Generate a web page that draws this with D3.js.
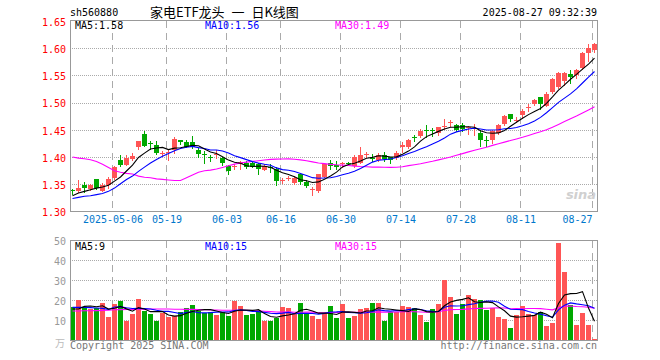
<!DOCTYPE html>
<html><head><meta charset="utf-8">
<script src="https://cdn.jsdelivr.net/npm/d3@7"></script>
<style>body{margin:0;background:#fff;} svg{display:block;}</style>
</head><body>
<svg id="c" width="660" height="360"></svg>
<script>
// ---------------- data ----------------
const dates = [
"2025-04-22","2025-04-23","2025-04-24","2025-04-25","2025-04-28","2025-04-29","2025-04-30",
"2025-05-06","2025-05-07","2025-05-08","2025-05-09","2025-05-12","2025-05-13","2025-05-14","2025-05-15","2025-05-16",
"2025-05-19","2025-05-20","2025-05-21","2025-05-22","2025-05-23","2025-05-26","2025-05-27","2025-05-28","2025-05-29","2025-05-30",
"2025-06-03","2025-06-04","2025-06-05","2025-06-06","2025-06-09","2025-06-10","2025-06-11","2025-06-12","2025-06-13",
"2025-06-16","2025-06-17","2025-06-18","2025-06-19","2025-06-20","2025-06-23","2025-06-24","2025-06-25","2025-06-26","2025-06-27",
"2025-06-30","2025-07-01","2025-07-02","2025-07-03","2025-07-04","2025-07-07","2025-07-08","2025-07-09","2025-07-10","2025-07-11",
"2025-07-14","2025-07-15","2025-07-16","2025-07-17","2025-07-18","2025-07-21","2025-07-22","2025-07-23","2025-07-24","2025-07-25",
"2025-07-28","2025-07-29","2025-07-30","2025-07-31","2025-08-01","2025-08-04","2025-08-05","2025-08-06","2025-08-07","2025-08-08",
"2025-08-11","2025-08-12","2025-08-13","2025-08-14","2025-08-15","2025-08-18","2025-08-19","2025-08-20","2025-08-21","2025-08-22",
"2025-08-25","2025-08-26","2025-08-27"];

const open = [1.339,1.338,1.349,1.341,1.359,1.338,1.349,1.362,1.395,1.386,1.397,1.418,1.442,1.425,1.422,1.407,1.408,1.413,1.432,1.427,1.428,1.413,1.405,1.400,1.404,1.398,1.384,1.383,1.387,1.390,
1.389,1.387,1.377,1.382,1.379,1.357,1.361,1.352,1.368,1.354,1.341,1.337,1.364,1.390,1.386,1.389,1.390,1.384,1.390,1.405,1.399,1.395,1.404,1.400,1.398,1.418,1.418,1.437,1.439,1.450,
1.449,1.445,1.457,1.463,1.459,1.459,1.455,1.452,1.444,1.432,1.432,1.444,1.461,1.479,1.467,1.478,1.491,1.498,1.511,1.494,1.519,1.528,1.540,1.552,1.550,1.563,1.591,1.597];
const high = [1.342,1.357,1.354,1.351,1.360,1.352,1.364,1.384,1.404,1.404,1.407,1.430,1.447,1.430,1.430,1.412,1.415,1.436,1.432,1.432,1.438,1.416,1.412,1.404,1.413,1.400,1.386,1.387,1.392,1.393,
1.391,1.390,1.387,1.387,1.381,1.362,1.366,1.365,1.370,1.357,1.345,1.369,1.390,1.395,1.392,1.391,1.391,1.404,1.419,1.410,1.406,1.407,1.410,1.401,1.412,1.427,1.433,1.440,1.451,1.459,
1.453,1.456,1.470,1.468,1.461,1.462,1.458,1.461,1.450,1.439,1.450,1.461,1.477,1.480,1.474,1.488,1.498,1.506,1.511,1.520,1.546,1.557,1.556,1.560,1.561,1.593,1.607,1.609];
const low = [1.332,1.335,1.335,1.340,1.341,1.337,1.343,1.360,1.383,1.385,1.394,1.414,1.420,1.415,1.406,1.402,1.395,1.408,1.424,1.418,1.416,1.400,1.390,1.392,1.398,1.385,1.369,1.378,1.378,1.380,
1.381,1.368,1.376,1.373,1.348,1.352,1.357,1.351,1.351,1.345,1.331,1.335,1.363,1.379,1.379,1.382,1.388,1.382,1.390,1.400,1.393,1.393,1.393,1.389,1.396,1.409,1.417,1.429,1.437,1.436,
1.439,1.441,1.451,1.458,1.448,1.448,1.442,1.441,1.420,1.421,1.425,1.442,1.459,1.466,1.464,1.472,1.485,1.496,1.488,1.493,1.518,1.527,1.533,1.537,1.546,1.562,1.577,1.593];
const close = [1.338,1.343,1.343,1.348,1.343,1.348,1.359,1.381,1.386,1.398,1.402,1.429,1.421,1.424,1.407,1.408,1.409,1.434,1.427,1.419,1.419,1.405,1.404,1.399,1.405,1.390,1.374,1.384,1.391,1.382,
1.382,1.378,1.383,1.381,1.356,1.358,1.362,1.362,1.354,1.346,1.342,1.368,1.387,1.384,1.381,1.390,1.389,1.400,1.404,1.406,1.398,1.404,1.397,1.395,1.408,1.423,1.432,1.436,1.448,1.449,
1.448,1.455,1.458,1.464,1.450,1.451,1.456,1.453,1.432,1.431,1.447,1.459,1.476,1.470,1.468,1.484,1.492,1.505,1.497,1.516,1.543,1.554,1.554,1.548,1.560,1.592,1.600,1.608];
// volume, unit: 万
const volume = [16.3,20.0,15.8,15.3,15.8,18.7,11.7,18.0,19.7,9.7,13.0,20.5,14.7,13.0,9.7,13.3,11.7,12.0,14.2,15.8,17.5,14.7,13.7,14.2,12.5,13.8,12.0,19.5,17.0,12.5,
13.0,13.8,9.7,9.7,10.8,16.3,15.8,13.0,18.3,13.3,12.0,10.5,13.3,17.0,11.0,18.0,11.0,12.0,15.5,16.0,18.5,18.5,9.5,14.2,14.2,17.0,16.5,16.0,12.3,9.2,
15.7,18.2,30.2,21.7,13.2,18.2,22.3,20.3,19.8,14.8,16.2,11.7,10.7,6.2,12.5,17.2,13.2,12.5,14.2,7.2,8.7,48.7,33.8,17.5,7.5,13.3,7.7,0.7];

// moving-average values at the left edge (history before the window)
const ma5Head  = [1.329,1.334,1.337,1.340];
const ma10Head = [1.324,1.326,1.328,1.329,1.331,1.333,1.337,1.343,1.351];
const ma30Head = [1.400,1.398,1.397,1.395,1.392,1.387,1.381,1.375,1.372,1.370,1.369,1.365,1.363,1.362,1.360,1.359,1.358,1.357,1.357,1.362,1.367,1.372,1.375,1.376,1.378,1.381,1.384,1.387,1.389];
const volMa5Head  = [15.5,15.5,16.8,17.0];
const volMa10Head = [16.3,16.3,16.3,16.2,16.0,15.8,15.3,16.5,16.6];
const volMa30Head = [14.5,14.5,14.6,14.6,14.7,14.8,14.9,15.1,15.2,15.3,15.3,15.4,15.4,15.5,15.5,15.5,15.5,15.4,15.4,15.3,15.3,15.2,15.1,15.0,15.0,14.9,14.9,14.9,14.9];

const priceTicks = [1.30,1.35,1.40,1.45,1.50,1.55,1.60,1.65];
const volTicks = [10,20,30,40,50];
const xTickDates  = ["2025-05-06","2025-05-19","2025-06-03","2025-06-16","2025-06-30","2025-07-14","2025-07-28","2025-08-11","2025-08-27"];
const xTickLabels = ["2025-05-06","05-19","06-03","06-16","06-30","07-14","07-28","08-11","08-27"];

const code = "sh560880";
const title = "家电ETF龙头 一 日K线图";
const stamp = "2025-08-27 09:32:39";

// ---------------- helpers ----------------
function movAvg(arr, n, head){
  return arr.map((v,i)=> i < n-1 ? head[i] : d3.mean(arr.slice(i-n+1, i+1)));
}
const N = close.length;
const ma5 = movAvg(close,5,ma5Head), ma10 = movAvg(close,10,ma10Head), ma30 = movAvg(close,30,ma30Head);
const vma5 = movAvg(volume,5,volMa5Head), vma10 = movAvg(volume,10,volMa10Head), vma30 = movAvg(volume,30,volMa30Head);

const RED = "#ff5555", GREEN = "#00a800";
const MONO = "'DejaVu Sans Mono', 'Liberation Mono', monospace";
const L = 70, R = 597;
const svg = d3.select("#c");

const x = d3.scaleLinear().domain([0, N]).range([L, L + 6*N]);
const yP = d3.scaleLinear().domain([1.30, 1.65]).range([211.5, 21]);
const yV = d3.scaleLinear().domain([0, 50]).range([340, 240]);
const tickIdx = xTickDates.map(d => dates.indexOf(d));

// clip paths
const defs = svg.append("defs");
defs.append("clipPath").attr("id","cp").append("rect").attr("x",L+1).attr("y",21).attr("width",R-L-1).attr("height",190);
defs.append("clipPath").attr("id","cv").append("rect").attr("x",L+1).attr("y",241).attr("width",R-L-1).attr("height",99);

// ---------------- header ----------------
svg.append("text").attr("x",70).attr("y",16).attr("font-family",MONO).attr("font-size",10).attr("fill","#000").text(code);
svg.append("text").attr("x",150).attr("y",17).attr("font-family","'Noto Sans CJK SC', sans-serif").attr("font-size",13)
  .attr("word-spacing",4).attr("fill","#000").attr("xml:space","preserve").text(title);
svg.append("text").attr("x",597).attr("y",16).attr("text-anchor","end").attr("font-family",MONO).attr("font-size",10).attr("fill","#000").text(stamp);

// ---------------- grids ----------------
function panelGrid(top, bottom, yScale, ticks){
  const g = svg.append("g");
  g.selectAll("line.h").data(ticks).join("line")
    .attr("x1",L).attr("x2",R)
    .attr("y1",d=>Math.round(yScale(d))+0.5).attr("y2",d=>Math.round(yScale(d))+0.5)
    .attr("stroke","#aaa").attr("stroke-dasharray","1,1");
  g.selectAll("line.v").data(tickIdx).join("line")
    .attr("x1",d=>x(d)+0.5).attr("x2",d=>x(d)+0.5)
    .attr("y1",top).attr("y2",bottom)
    .attr("stroke","#aaa").attr("stroke-dasharray","7,5");
}
panelGrid(21, 211, yP, [1.35,1.40,1.45,1.50,1.55,1.60]);
panelGrid(241, 340, yV, [10,20,30,40]);

// ---------------- candles ----------------
const cg = svg.append("g").attr("clip-path","url(#cp)");
const idx = d3.range(N);
const col = i => close[i] >= open[i] ? RED : GREEN;
cg.selectAll("line.w").data(idx).join("line")
  .attr("x1",i=>x(i)+2.5).attr("x2",i=>x(i)+2.5)
  .attr("y1",i=>Math.round(yP(high[i]))).attr("y2",i=>Math.round(yP(low[i]))+1)
  .attr("stroke",col).attr("stroke-width",1);
cg.selectAll("rect.b").data(idx).join("rect")
  .attr("x",i=>x(i)).attr("width",5)
  .attr("y",i=>Math.round(yP(Math.max(open[i],close[i]))))
  .attr("height",i=>Math.max(1, Math.round(yP(Math.min(open[i],close[i]))) - Math.round(yP(Math.max(open[i],close[i])))))
  .attr("fill",col);

const lineP = d3.line().x((d,i)=>x(i)+2.5).y(d=>yP(d));
[[ma30,"#ff00ff"],[ma10,"#0000ff"],[ma5,"#000"]].forEach(([s,c])=>{
  cg.append("path").attr("d",lineP(s)).attr("fill","none").attr("stroke",c).attr("stroke-width",1.1);
});

// ---------------- volume ----------------
const vg = svg.append("g").attr("clip-path","url(#cv)");
vg.selectAll("rect").data(idx).join("rect")
  .attr("x",i=>x(i)).attr("width",5)
  .attr("y",i=>Math.round(yV(volume[i])))
  .attr("height",i=>340-Math.round(yV(volume[i])))
  .attr("fill",col);
const lineV = d3.line().x((d,i)=>x(i)+2.5).y(d=>yV(d));
[[vma30,"#ff00ff"],[vma10,"#0000ff"],[vma5,"#000"]].forEach(([s,c])=>{
  vg.append("path").attr("d",lineV(s)).attr("fill","none").attr("stroke",c).attr("stroke-width",1.1);
});

// ---------------- frames ----------------
svg.append("rect").attr("x",L+0.5).attr("y",20.5).attr("width",R-L).attr("height",191).attr("fill","none").attr("stroke","#999");
svg.append("rect").attr("x",L+0.5).attr("y",240.5).attr("width",R-L).attr("height",100).attr("fill","none").attr("stroke","#999");

// ---------------- axes ----------------
const ay = svg.append("g").attr("transform",`translate(${L},0)`)
  .call(d3.axisLeft(yP).tickValues(priceTicks).tickFormat(d3.format(".2f")).tickSize(0).tickPadding(4));
ay.select(".domain").remove();
ay.selectAll("text").attr("font-family",MONO).attr("font-size",10).attr("fill","#ff0000").attr("dy","0.42em");

const av = svg.append("g").attr("transform",`translate(${L},0)`)
  .call(d3.axisLeft(yV).tickValues(volTicks).tickFormat(d3.format("d")).tickSize(0).tickPadding(4));
av.select(".domain").remove();
av.selectAll("text").attr("font-family",MONO).attr("font-size",10).attr("fill","#999").attr("dy","0.42em");
svg.append("text").attr("x",65).attr("y",347).attr("text-anchor","end").attr("font-family","'Noto Sans CJK SC', sans-serif").attr("font-size",10).attr("fill","#bbb").text("万");

const ax = svg.append("g").attr("transform","translate(0.5,213)")
  .call(d3.axisBottom(x).tickValues(tickIdx).tickFormat((d,k)=>xTickLabels[k]).tickSize(0).tickPadding(0));
ax.select(".domain").remove();
ax.selectAll("text").attr("font-family",MONO).attr("font-size",10).attr("fill","#0077cc").attr("dy","0.95em");
ax.selectAll(".tick").filter((d,k)=>k===tickIdx.length-1).select("text").attr("text-anchor","end").attr("x",-0.5);

// ---------------- legends ----------------
function legend(y, items){
  items.forEach(([t,c,xx])=> svg.append("text").attr("x",xx).attr("y",y).attr("font-family",MONO).attr("font-size",10).attr("fill",c).text(t));
}
legend(29,[["MA5:"+ma5[N-1].toFixed(2),"#000",75],["MA10:"+ma10[N-1].toFixed(2),"#0000ff",205],["MA30:"+ma30[N-1].toFixed(2),"#ff00ff",335]]);
legend(250,[["MA5:"+Math.floor(vma5[N-1]),"#000",75],["MA10:"+Math.floor(vma10[N-1]),"#0000ff",205],["MA30:"+Math.floor(vma30[N-1]),"#ff00ff",335]]);

// ---------------- footer / watermark ----------------
svg.append("text").attr("x",70).attr("y",349).attr("font-family",MONO).attr("font-size",10).attr("fill","#777").text("Copyright 2025 SINA.COM");
svg.append("text").attr("x",597).attr("y",349).attr("text-anchor","end").attr("font-family",MONO).attr("font-size",10).attr("fill","#777").text("http://finance.sina.com.cn");
svg.append("text").attr("x",581).attr("y",199).attr("text-anchor","middle").attr("font-family","'DejaVu Sans', sans-serif").attr("font-style","italic").attr("font-weight","bold").attr("font-size",13).attr("fill","#d0d0d0").text("sina");
</script>
</body></html>
